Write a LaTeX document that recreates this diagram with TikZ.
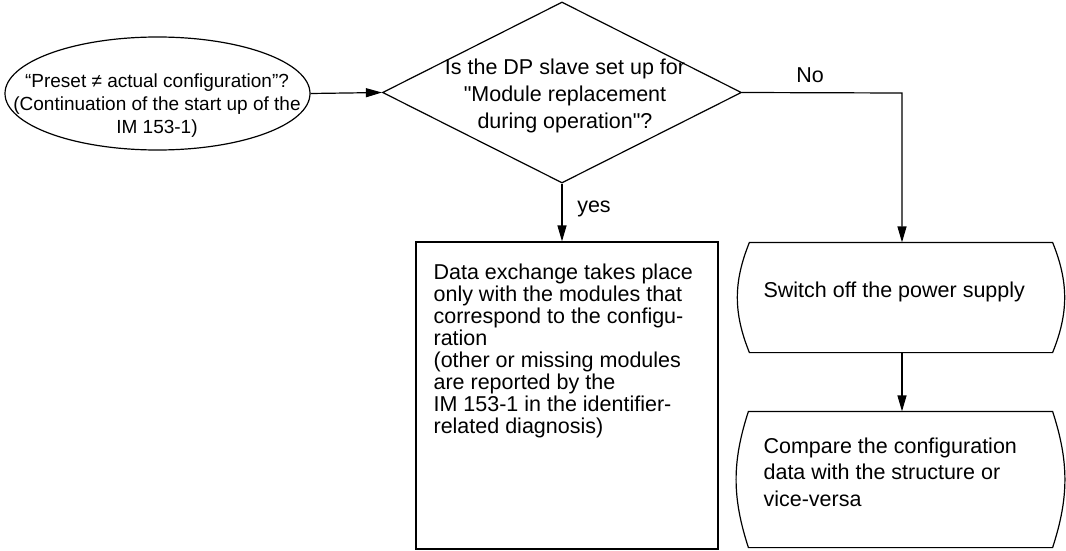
\documentclass[tikz,border=0pt]{standalone}
\usepackage{fontspec}
\setmainfont{Liberation Sans}[Ligatures=TeXOff]
\usetikzlibrary{shapes.geometric,arrows.meta}
\begin{document}
\begin{tikzpicture}[x=1pt,y=-1pt,
  line width=1.2pt,
  flow/.style={draw, line width=1.2pt, -{Triangle[length=16pt,width=9pt]}},
  shapebox/.style={draw, line width=1.2pt, inner sep=0pt},
  bigtxt/.style={inner sep=0pt, font=\fontsize{21.5}{26.7}\selectfont},
  tighttxt/.style={inner sep=0pt, font=\fontsize{21.5}{22}\selectfont},
  smalltxt/.style={inner sep=0pt, font=\fontsize{19}{23}\selectfont}
]
\useasboundingbox (0,0) rectangle (1066,551);

% start ellipse
\node[shapebox, ellipse, minimum width=305pt, minimum height=113pt] (start) at (157.5,93.5) {};
\node[smalltxt, align=center, anchor=north] (starttxt) at (157,73)
  {“Preset ≠ actual configuration”?\\(Continuation of the start up of the\\IM 153-1)};

% decision diamond
\node[shapebox, diamond, minimum width=359pt, minimum height=181pt] (dec) at (562,92.5) {};
\node[bigtxt, align=center, anchor=north] (dectxt) at (565,58.5)
  {Is the DP slave set up for\\"Module replacement\\during operation"?};

% yes box
\node[shapebox, rectangle, minimum width=302pt, minimum height=307pt] (yesbox) at (567,395.5) {};
\node[tighttxt, align=left, anchor=north west] (yestxt) at (433,263)
  {Data exchange takes place\\only with the modules that\\correspond to the configu-\\ration\\(other or missing modules\\are reported by the\\IM 153-1 in the identifier-\\related diagnosis)};

% no boxes (invisible frames, drawn with curved sides)
\node[inner sep=0pt, minimum width=302pt, minimum height=109pt] (offbox) at (901,297.5) {};
\draw (offbox.north west) to[bend right=22] (offbox.south west) -- (offbox.south east)
      to[bend right=22] (offbox.north east) -- cycle;
\node[bigtxt, anchor=base west] (offtxt) at (763,297.6) {Switch off the power supply};

\node[inner sep=0pt, minimum width=303pt, minimum height=135pt] (cmpbox) at (900.5,479.5) {};
\draw (cmpbox.north west) to[bend right=18] (cmpbox.south west) -- (cmpbox.south east)
      to[bend right=18] (cmpbox.north east) -- cycle;
\node[bigtxt, align=left, anchor=north west] (cmptxt) at (763,437)
  {Compare the configuration\\data with the structure or\\vice-versa};

% connectors
\draw[flow] (start.east) -- (dec.west);
\coordinate (corner) at (902,93);
\draw[flow] (dec.east) -- (corner) -- (corner |- offbox.north);
\node[bigtxt, anchor=base] (nolbl) at (810,83) {No};
\draw[flow] (dec.south) -- (dec.south |- yesbox.north);
\node[bigtxt, anchor=base] (yeslbl) at (594,212.6) {yes};
\draw[flow] (offbox.south -| corner) -- (corner |- cmpbox.north);
\end{tikzpicture}
\end{document}
